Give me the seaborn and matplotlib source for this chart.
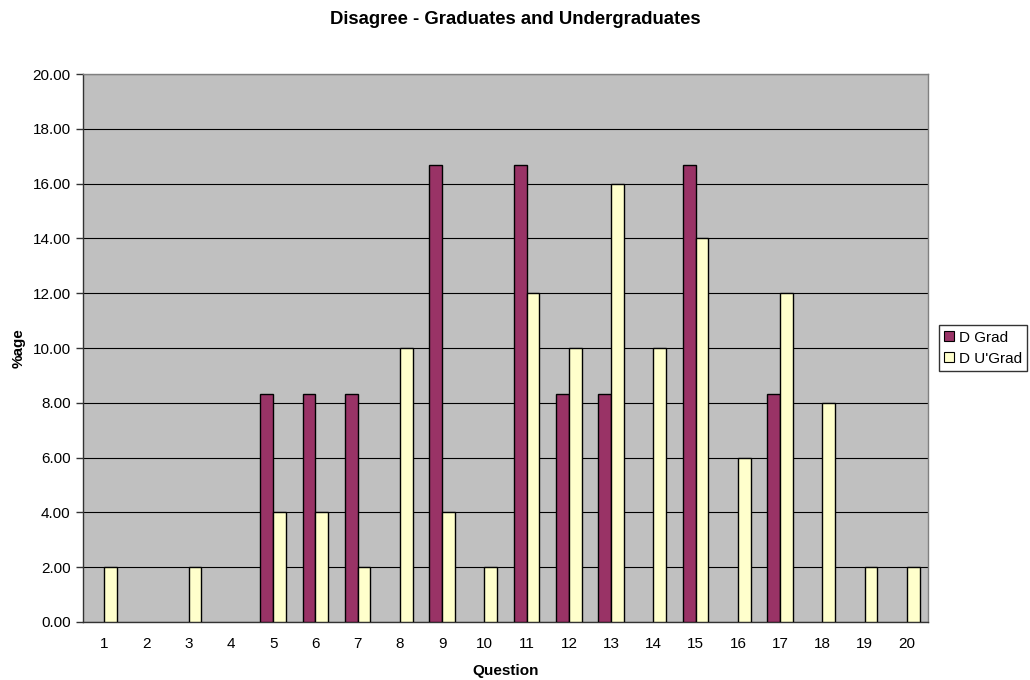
import matplotlib
matplotlib.use("Agg")
import matplotlib.pyplot as plt
from matplotlib.ticker import FormatStrFormatter, MultipleLocator
from matplotlib.patches import Patch
import pandas as pd
import seaborn as sns

questions = list(range(1, 21))
grad = [0, 0, 0, 0, 8.33, 8.33, 8.33, 0, 16.67, 0,
        16.67, 8.33, 8.33, 0, 16.67, 0, 8.33, 0, 0, 0]
ugrad = [2, 0, 2, 0, 4, 4, 2, 10, 4, 2,
         12, 10, 16, 10, 14, 6, 12, 8, 2, 2]
series_names = ["D Grad", "D U'Grad"]
colors = ["#993366", "#FFFFCC"]

df = pd.DataFrame({
    "Question": [str(q) for q in questions] * 2,
    "value": grad + ugrad,
    "series": [series_names[0]] * len(questions) + [series_names[1]] * len(questions),
})

sns.set_theme(style="white")
plt.rcParams["font.family"] = ["Liberation Sans", "DejaVu Sans"]
plt.rcParams["text.color"] = "black"
plt.rcParams["axes.labelcolor"] = "black"
plt.rcParams["xtick.color"] = "black"
plt.rcParams["ytick.color"] = "black"

FS = 11

fig = plt.figure(figsize=(10.3, 6.8), dpi=100)
ax = fig.add_axes([0.0806, 0.0853, 0.8204, 0.8057])
ax.set_facecolor("#C0C0C0")

sns.barplot(data=df, x="Question", y="value", hue="series",
            palette=colors, saturation=1, width=0.6, ax=ax,
            edgecolor="black", linewidth=1.0, legend=False, zorder=3)

# empty categories get no outline
for bar in ax.patches:
    if bar.get_height() == 0:
        bar.set_linewidth(0)

ax.set_ylim(0, 20)
ax.set_xlim(-0.5, 19.5)
ax.yaxis.set_major_locator(MultipleLocator(2))
ax.yaxis.set_major_formatter(FormatStrFormatter("%.2f"))
ax.grid(axis="y", color="black", linewidth=0.8, zorder=1)
ax.set_axisbelow(True)

for side in ["top", "right"]:
    ax.spines[side].set_color("#808080")
    ax.spines[side].set_linewidth(1.0)
for side in ["left", "bottom"]:
    ax.spines[side].set_color("#333333")
    ax.spines[side].set_linewidth(1.0)

ax.set_xticks([i - 0.5 for i in range(21)], minor=True)
ax.tick_params(axis="x", which="major", length=0, labelsize=FS, pad=11,
               labelcolor="black")
ax.tick_params(axis="x", which="minor", length=5, width=1, color="#333333",
               direction="out")
ax.tick_params(axis="y", which="major", length=5, width=1, color="#333333",
               direction="out", labelsize=FS, left=True, pad=4,
               labelcolor="black")

ax.set_xlabel("Question", fontsize=FS, fontweight="bold", labelpad=9,
              color="black")
ax.set_ylabel("%age", fontsize=FS, fontweight="bold", labelpad=5,
              color="black")
fig.suptitle("Disagree - Graduates and Undergraduates", fontsize=13.3,
             fontweight="bold", y=0.972, va="center", color="black")

handles = [Patch(facecolor=c, edgecolor="black", linewidth=0.8) for c in colors]
leg = fig.legend(handles, series_names, loc="center left",
                 bbox_to_anchor=(0.9117, 0.488), fontsize=FS, frameon=True,
                 fancybox=False, handlelength=0.65, handleheight=0.65,
                 handletextpad=0.3, borderpad=0.35, labelspacing=0.45,
                 borderaxespad=0, labelcolor="black")
leg.get_frame().set_edgecolor("black")
leg.get_frame().set_linewidth(1.0)

fig.savefig("out.png", dpi=100, facecolor="white")
